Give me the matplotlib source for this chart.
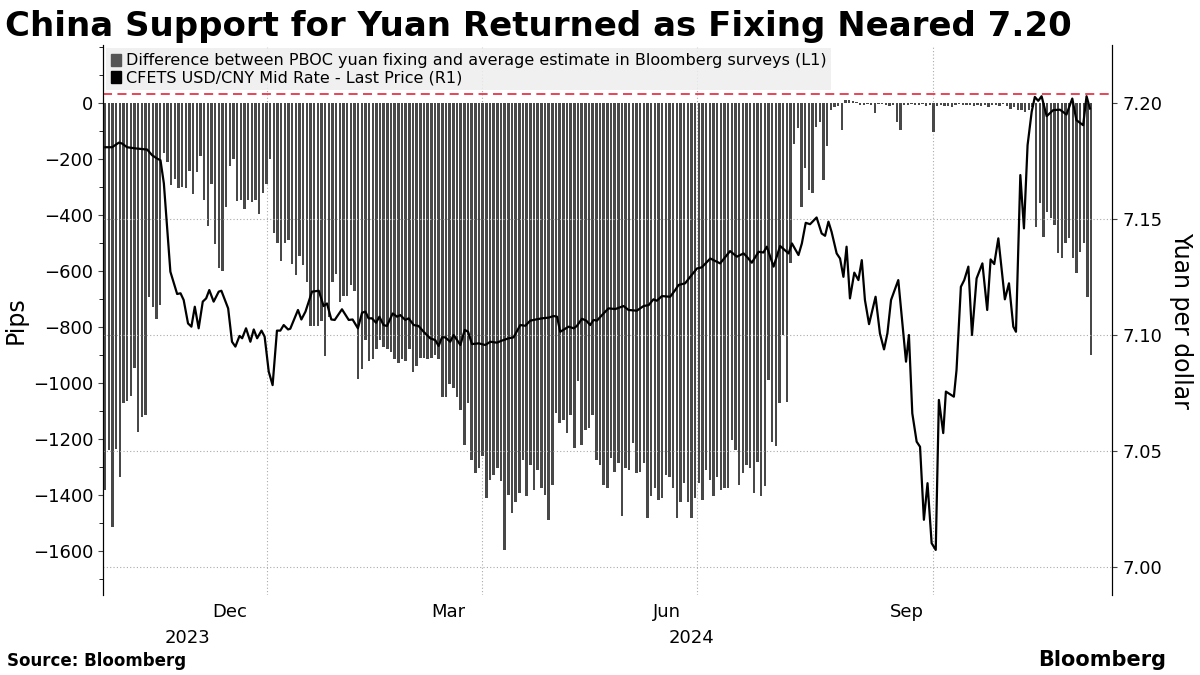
import matplotlib
matplotlib.use("Agg")
import matplotlib.pyplot as plt
import matplotlib.transforms as mtransforms
from matplotlib.patches import Patch
import numpy as np

span = 409  # days from 2023-09-25 to 2024-11-08

# Difference between fixing and estimate (pips), one per trading day
diff_pips = [
    -1382, -1240, -1515, -1236, -1336, -1071, -1065, -1048, -946, -1175,
    -1122, -1116, -693, -729, -770, -722, -180, -210, -292, -270,
    -305, -300, -305, -243, -326, -245, -190, -345, -440, -290,
    -505, -590, -600, -370, -225, -200, -350, -345, -380, -345,
    -355, -345, -395, -320, -290, -200, -465, -500, -565, -500,
    -490, -575, -615, -545, -580, -640, -795, -795, -795, -780,
    -905, -765, -640, -610, -710, -690, -690, -650, -670, -985,
    -950, -845, -920, -915, -880, -845, -870, -880, -890, -915,
    -930, -915, -920, -880, -960, -940, -910, -910, -915, -910,
    -900, -915, -1050, -1050, -1005,
    -1019, -1049, -1096, -1221, -1073, -1275, -1323, -1305, -1263, -1412,
    -1346, -1329, -1305, -1352, -1596, -1400, -1465, -1424, -1394, -1275,
    -1406, -1293, -1382, -1311, -1376, -1400, -1489, -1364, -1108, -1144,
    -1132, -1180, -1114, -1233, -995, -1221, -1168, -1162, -1114, -1275,
    -1293, -1364, -1376, -1269, -1317, -1287, -1477, -1305, -1311, -1215,
    -1323, -1317, -1287, -1483, -1406, -1376, -1418, -1412, -1329, -1335,
    -1376, -1483, -1424, -1358, -1424, -1483, -1412, -1358, -1418, -1311,
    -1346, -1406, -1335, -1382, -1376, -1376, -1204, -1239, -1364, -1323,
    -1293, -1305, -1394, -1281, -1406, -1370, -989, -1210, -1227, -1073,
    -829, -1067, -573,
    -145, -90, -370, -233, -310, -323, -85, -67, -275, -155,
    -25, -13, -10, -97, 10,
    12, 8, 5, -8, -5, -3, -5, -37, -3, -2,
    -5, -10, -8, -67, -97, -5, -6, -4, -6, -8,
    -3, -10, -8, -103, -10, -8, -12, -10, -15, -8,
    -3, -6, -5, -8, -10, -6, -12, -8, -15, -5,
    -8, -10, -4, -10, -20, -15,
    -25, -25, -30, -25, -15, -442, -358, -477, -388, -412,
    -436, -537, -555, -501, -483, -555, -606, -531, -501, -692,
    -900,
]

# CFETS USD/CNY mid rate: position (chart days from start), value
rate_days = [
    0.1, 2.9, 5.7, 7.0, 9.1, 12.5, 17.4, 19.4, 21.5, 22.9, 24.3, 27.0, 29.8, 31.2, 32.5, 34.3, 35.7,
    37.1, 38.7, 40.4, 41.8, 43.1, 44.9, 47.0, 48.1, 50.9, 52.5, 53.9, 55.6, 56.7, 58.3, 60.1, 61.5,
    62.9, 64.7, 66.0, 67.7, 69.3, 71.1, 72.5, 73.9, 75.7, 76.6, 79.8, 81.2, 82.9, 85.6, 88.4, 90.4,
    91.8, 93.6, 95.0, 98.0, 100.8, 102.4, 104.6, 106.3, 107.7, 109.0, 110.4, 112.1, 113.5, 115.2,
    116.6, 119.0, 120.8, 122.1, 124.2, 125.6, 127.7, 129.7, 131.8, 134.5, 136.6, 138.0, 139.4,
    140.7, 142.8,
    144.2, 147.0, 148.8, 150.2, 151.8, 154.6, 157.3, 159.4, 162.1, 164.2, 167.0, 169.0, 171.8,
    173.9, 175.9, 178.7, 180.8, 183.5, 185.6, 187.0, 188.3, 191.8, 193.9, 195.2, 197.3, 199.1,
    200.7, 202.1, 203.5, 205.6, 208.3, 211.1, 214.5, 216.6, 220.0, 222.8, 224.9, 226.9, 228.3,
    230.4, 233.8, 235.9, 237.3, 240.0, 242.1, 244.9, 246.9, 250.4, 253.1, 254.5, 258.6, 261.4,
    264.2, 265.5, 267.6, 270.4, 272.4, 273.8, 276.6, 279.3, 282.8, 284.2, 286.9, 288.3,
    289.9, 291.7, 294.4, 296.5, 297.9, 299.3, 300.6, 302.7, 304.1, 305.5, 306.8, 308.2, 310.0,
    311.7, 313.1, 314.4, 316.1, 318.8, 320.6, 322.3, 323.7, 325.2, 328.2, 331.4, 332.6, 334.0,
    335.8, 337.2, 338.8, 340.3, 342.0, 343.7, 345.0, 346.8, 347.9, 351.2, 352.3, 354.1, 355.5,
    357.2, 358.7, 360.6, 363.0, 365.0, 366.4, 367.9, 369.6, 372.3, 374.0, 375.8, 376.9, 378.7,
    380.2, 381.7, 383.4, 384.7, 386.1, 387.5, 389.6, 392.3, 395.1, 397.8, 400.2, 401.9, 404.7,
    406.1, 407.5,
]
rate_vals = [
    7.181, 7.181, 7.183, 7.1826, 7.181, 7.1805, 7.180, 7.1776, 7.1761, 7.1754, 7.1654, 7.1273,
    7.1177, 7.118, 7.1151, 7.105, 7.1036, 7.1122, 7.1029, 7.1144, 7.1158, 7.1194, 7.1144, 7.1187,
    7.1191, 7.1115, 7.0971, 7.095, 7.0996, 7.0986, 7.1029, 7.0971, 7.1024, 7.0986, 7.1019, 7.0993,
    7.0842, 7.0784, 7.1019, 7.1019, 7.1043, 7.1024, 7.1027, 7.1108, 7.1067, 7.1101, 7.1187, 7.1191,
    7.1125, 7.1136, 7.1067, 7.1065, 7.1111, 7.1065, 7.1067, 7.1029, 7.1096, 7.1101, 7.1072, 7.1072,
    7.1053, 7.1079, 7.1043, 7.1039, 7.1093, 7.1079, 7.1086, 7.1065, 7.1072, 7.1043, 7.1039, 7.1014,
    7.0986, 7.0978, 7.0953, 7.099, 7.099, 7.0971,
    7.1000, 7.0957, 7.1022, 7.1014, 7.0961, 7.0964, 7.0957, 7.0971, 7.0967, 7.0976, 7.0986, 7.099,
    7.1043, 7.104, 7.1062, 7.1068, 7.1072, 7.1075, 7.1082, 7.1079, 7.1014, 7.1036, 7.1029, 7.1039,
    7.107, 7.1062, 7.1043, 7.1065, 7.1062, 7.1086, 7.1115, 7.1112, 7.1125, 7.1108, 7.1105, 7.1125,
    7.1129, 7.1154, 7.1148, 7.1168, 7.1165, 7.1194, 7.1216, 7.1223, 7.1251, 7.1287, 7.1292, 7.133,
    7.1316, 7.1309, 7.1362, 7.1338, 7.1352, 7.1338, 7.1312, 7.1359, 7.1356, 7.1381, 7.1295, 7.1384,
    7.1352, 7.1395, 7.1345, 7.1395,
    7.1484, 7.1478, 7.1507, 7.1438, 7.1428, 7.1489, 7.1445, 7.1352, 7.133, 7.1251, 7.1381, 7.1158,
    7.1269, 7.1237, 7.1323, 7.1151, 7.1047, 7.1165, 7.1007, 7.0938, 7.1007, 7.1151, 7.1237, 7.0885,
    7.1, 7.0662, 7.054, 7.0518, 7.0203, 7.0361, 7.0102, 7.0073, 7.0720, 7.0577, 7.0756, 7.0734,
    7.0849, 7.1208, 7.1237, 7.1295, 7.1, 7.1244, 7.1309, 7.1108, 7.1326, 7.1306, 7.1417, 7.1154,
    7.1223, 7.1036, 7.1014, 7.169, 7.146, 7.1819, 7.1963, 7.2027, 7.201, 7.203, 7.1944, 7.197,
    7.1972, 7.1951, 7.202, 7.1927, 7.1905, 7.203, 7.1977,
]
threshold = 7.204
# month boundaries on the (trading-day) chart scale
month_pos = [67, 156, 245, 342.5]
month_labels = ["Dec", "Mar", "Jun", "Sep"]
month_label_pos = [51.7, 142.2, 232.4, 331.6]
year_labels = ["2023", "2024"]
year_label_pos = [33.9, 242.8]

bar_pos = np.linspace(0, span - 1, len(diff_pips))

fig = plt.figure(figsize=(12, 6.75), dpi=100)
ax = fig.add_axes([0.086, 0.119, 0.841, 0.814])
ax2 = ax.twinx()

ax.bar(bar_pos, diff_pips, width=1.0, color="#484848", zorder=2, linewidth=0)
ax.set_ylim(-1757, 207)
ax.set_yticks(np.arange(-1600, 1, 200))
ax.set_yticks(np.arange(-1700, 201, 100), minor=True)
ax.set_ylabel("Pips", fontsize=17)

ax2.plot(rate_days, rate_vals, color="black", lw=1.6, zorder=3)
ax2.axhline(threshold, color="#e8364a", lw=1.3, ls=(0, (5, 3)), zorder=1)
ax2.set_ylim(6.988, 7.225)
ax2.set_yticks([7.00, 7.05, 7.10, 7.15, 7.20])
ax2.set_yticklabels(["7.00", "7.05", "7.10", "7.15", "7.20"])
ax2.set_ylabel("Yuan per dollar", fontsize=17, rotation=270, labelpad=22)
for yv in [7.00, 7.05, 7.10, 7.15]:
    ax2.axhline(yv, color="#aaaaaa", lw=0.8, ls=(0, (1, 2)), zorder=0)

ax.set_xlim(-0.8, 416.8)
ax.set_xticks([])
trans = mtransforms.blended_transform_factory(ax.transData, ax.transAxes)
for x in month_pos:
    ax.axvline(x, color="#aaaaaa", lw=0.8, ls=(0, (1, 2)), zorder=0)
for x, lab in zip(month_label_pos, month_labels):
    ax.text(x, -0.015, lab, transform=trans, ha="center", va="top", fontsize=13)
for x, lab in zip(year_label_pos, year_labels):
    ax.text(x, -0.062, lab, transform=trans, ha="center", va="top", fontsize=13)

for a in (ax, ax2):
    a.spines["top"].set_visible(False)
    a.spines["bottom"].set_visible(False)
    a.tick_params(labelsize=13, color="#444444")
ax.tick_params(axis="y", which="minor", length=3)

handles = [Patch(color="#555555"), Patch(color="black")]
leg = ax.legend(handles, ["Difference between PBOC yuan fixing and average estimate in Bloomberg surveys (L1)",
                          "CFETS USD/CNY Mid Rate - Last Price (R1)"],
                loc="upper left", bbox_to_anchor=(0, 1.0), fontsize=11.5, handlelength=0.6,
                handleheight=0.8, handletextpad=0.3, labelspacing=0.15, borderpad=0.3,
                borderaxespad=0.2, frameon=True, fancybox=False)
leg.get_frame().set_facecolor("#eeeeee")
leg.get_frame().set_edgecolor("none")
leg.get_frame().set_alpha(0.85)

fig.text(0.004, 0.985, "China Support for Yuan Returned as Fixing Neared 7.20", fontsize=24.5,
         fontweight="bold", va="top", ha="left")
fig.text(0.006, 0.008, "Source: Bloomberg", fontsize=12, fontweight="bold", va="bottom")
fig.text(0.972, 0.008, "Bloomberg", fontsize=15, fontweight="bold", va="bottom", ha="right")

fig.savefig("out.png", dpi=100)
